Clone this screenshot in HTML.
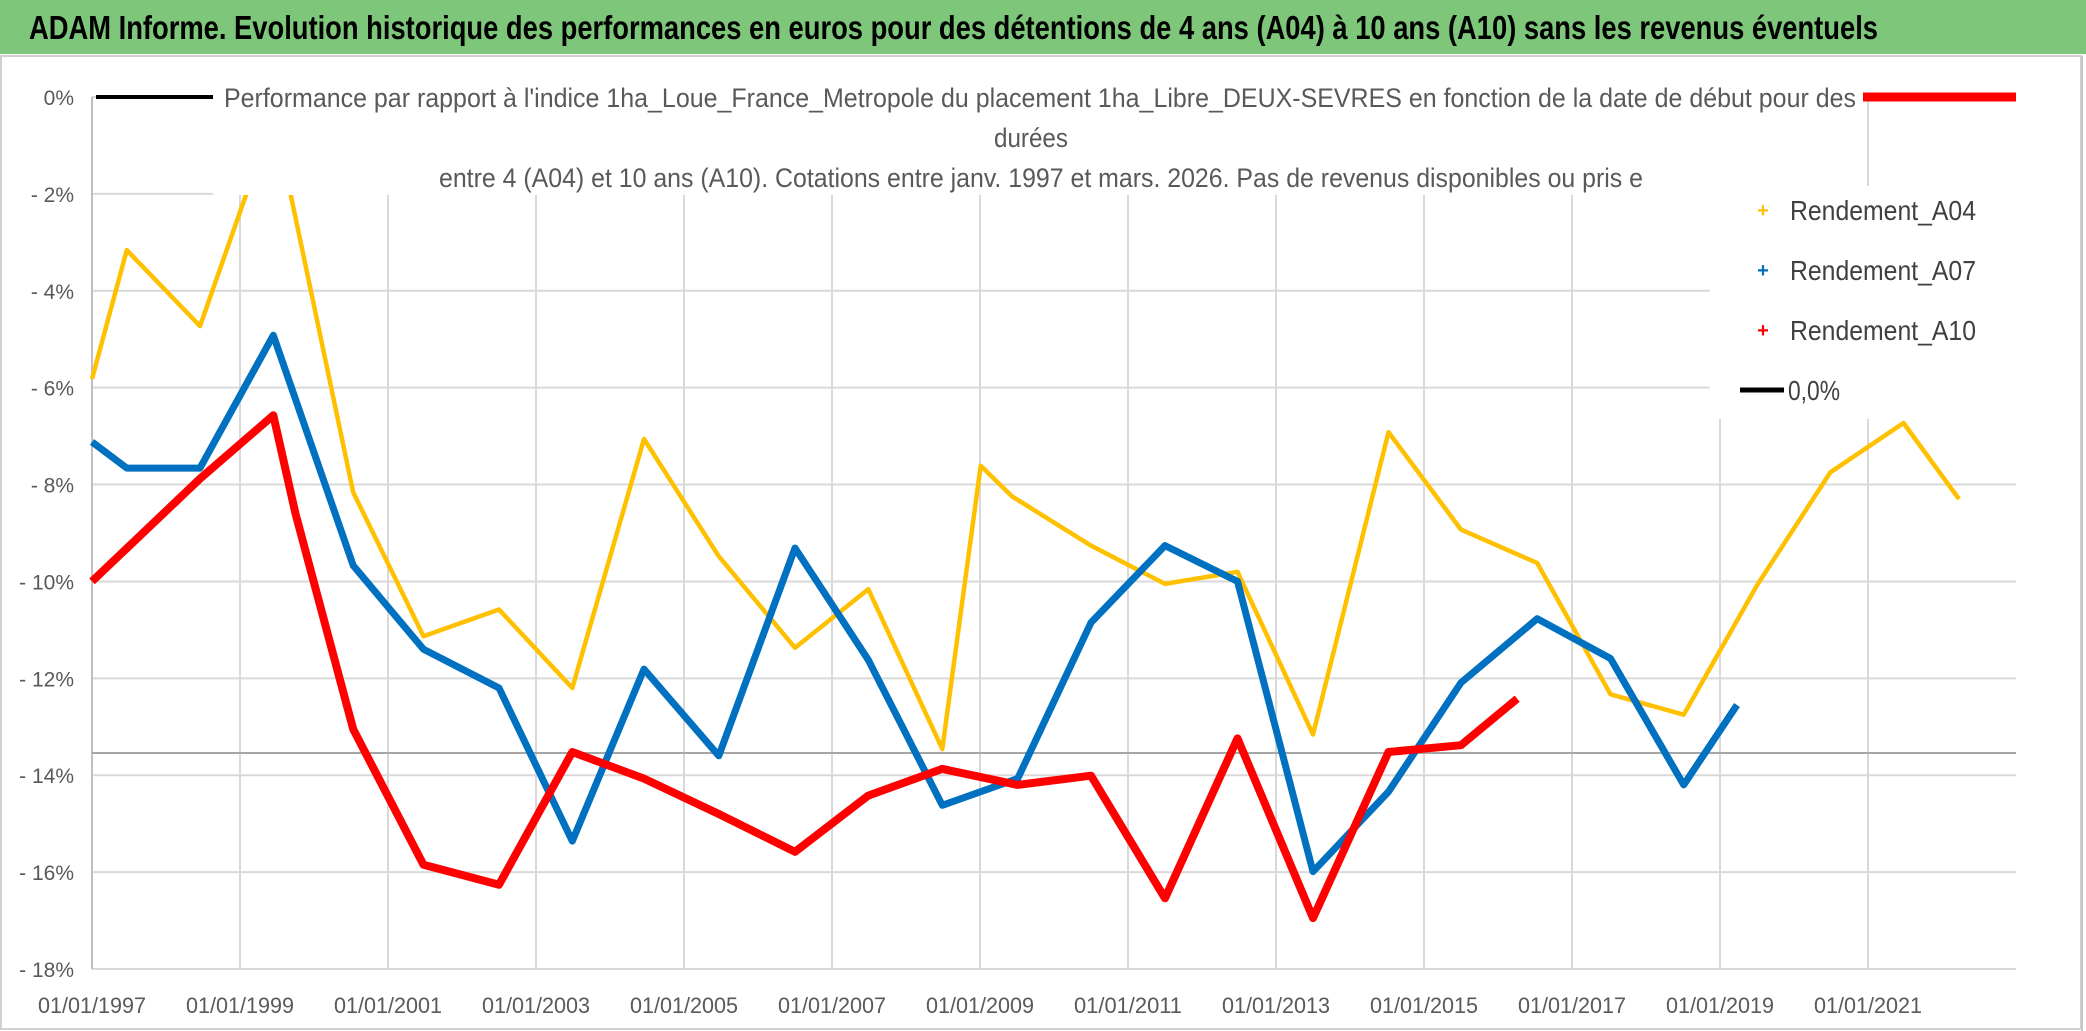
<!DOCTYPE html>
<html><head><meta charset="utf-8"><style>
html,body{margin:0;padding:0;background:#fff;}
svg{display:block;font-family:"Liberation Sans",sans-serif;}
</style></head><body>
<svg id="chart" width="2086" height="1031" viewBox="0 0 2086 1031">
<rect x="0" y="0" width="2086" height="1031" fill="#fff"/>
<rect x="0" y="0" width="2086" height="54" fill="#7dc67a"/>
<text x="29" y="39" font-size="33" font-weight="bold" fill="#000" textLength="1849" lengthAdjust="spacingAndGlyphs">ADAM Informe. Evolution historique des performances en euros pour des détentions de 4 ans (A04) à 10 ans (A10) sans les revenus éventuels</text>
<rect x="1" y="56" width="2080" height="973" fill="none" stroke="#d0d0d0" stroke-width="2"/>
<line x1="2082" y1="56" x2="2082" y2="1031" stroke="#c8c8c8" stroke-width="2"/>
<g id="grid"></g>
<g id="series"></g>
<g id="overlay"></g>
<g id="axes"></g>
</svg>
<script>
const yTicks = [0,-2,-4,-6,-8,-10,-12,-14,-16,-18];
const xTickYears = [1997,1999,2001,2003,2005,2007,2009,2011,2013,2015,2017,2019,2021];
const a04Years = [1997.0,1997.47,1998.46,1999.09,1999.45,1999.68,2000.53,2001.48,2002.5,2003.49,2004.46,2005.47,2006.5,2007.49,2008.49,2009.01,2009.43,2010.5,2011.5,2012.48,2013.5,2014.52,2015.5,2016.53,2017.52,2018.51,2019.5,2020.49,2021.48,2022.23];
const a04Values = [-5.82,-3.16,-4.73,-1.98,-1.1,-1.98,-8.16,-11.13,-10.58,-12.2,-7.06,-9.48,-11.37,-10.16,-13.46,-7.61,-8.24,-9.26,-10.05,-9.8,-13.16,-6.92,-8.93,-9.62,-12.33,-12.75,-10.08,-7.75,-6.73,-8.3];
const a07Years = [1997.0,1997.47,1998.46,1999.45,2000.53,2001.48,2002.5,2003.49,2004.46,2005.47,2006.5,2007.49,2008.49,2009.51,2010.5,2011.5,2012.48,2013.5,2014.52,2015.5,2016.53,2017.52,2018.51,2019.23];
const a07Values = [-7.12,-7.66,-7.66,-4.92,-9.67,-11.4,-12.2,-15.36,-11.81,-13.6,-9.31,-11.62,-14.62,-14.07,-10.85,-9.26,-10.0,-15.99,-14.34,-12.09,-10.77,-11.59,-14.2,-12.55];
const a10Years = [1997.0,1998.46,1999.45,1999.75,2000.53,2001.48,2002.5,2003.49,2004.46,2005.47,2006.5,2007.49,2008.49,2009.51,2010.5,2011.5,2012.48,2013.5,2014.52,2015.5,2016.26];
const a10Values = [-10.0,-7.88,-6.57,-8.6,-13.05,-15.85,-16.26,-13.52,-14.07,-14.8,-15.58,-14.42,-13.87,-14.2,-14.01,-16.54,-13.24,-16.95,-13.52,-13.38,-12.42];
const refLineValue = [-13.54];

const NS="http://www.w3.org/2000/svg";
const X0=92, X1=2016, Y0=97, Y1=969;
const xMin=1997, xMax=2023, yMaxV=0, yMinV=-18;
function xs(v){return X0+(v-xMin)/(xMax-xMin)*(X1-X0);}
function ys(v){return Y0+(yMaxV-v)/(yMaxV-yMinV)*(Y1-Y0);}
function mk(tag,parent,attrs){const e=document.createElementNS(NS,tag);for(const k in attrs)e.setAttribute(k,attrs[k]);parent.appendChild(e);return e;}
const grid=document.getElementById('grid'), series=document.getElementById('series'), overlay=document.getElementById('overlay'), axes=document.getElementById('axes');

yTicks.forEach(v=>{
  const l=mk('line',grid,{x1:X0,x2:X1,y1:ys(v),y2:ys(v),stroke:'#d9d9d9','stroke-width':2});
  
  
  const t=mk('text',axes,{x:74,y:ys(v)+8,'font-size':21,fill:'#595959','text-anchor':'end'});
  t.textContent = v===0 ? '0%' : '- '+Math.abs(v)+'%';
  
  
});
xTickYears.forEach(yr=>{
  const l=mk('line',grid,{x1:xs(yr),x2:xs(yr),y1:Y0,y2:Y1,stroke:'#d9d9d9','stroke-width':2});
  
  
  const t=mk('text',axes,{x:xs(yr),y:1013,'font-size':22,fill:'#595959','text-anchor':'middle',textLength:108,lengthAdjust:'spacingAndGlyphs'});
  t.textContent='01/01/'+yr;
  
  
});
const ax=mk('line',grid,{x1:X0,x2:X0,y1:Y0,y2:Y1,stroke:'#bfbfbf','stroke-width':2});


const rl=mk('line',grid,{x1:X0,x2:X1,y1:ys(refLineValue[0]),y2:ys(refLineValue[0]),stroke:'#a6a6a6','stroke-width':2});



function drawSeries(years,vals,color,w,name){
  const pts=years.map((y,i)=>xs(y).toFixed(1)+','+ys(vals[i]).toFixed(1)).join(' ');
  const p=mk('polyline',series,{points:pts,fill:'none',stroke:color,'stroke-width':w,'stroke-linejoin':'round'});
  
  
}
drawSeries(a04Years,a04Values,'#ffc000',4.5,'series-a04');
drawSeries(a07Years,a07Values,'#0070c0',7,'series-a07');
drawSeries(a10Years,a10Values,'#ff0000',8,'series-a10');

const tb=mk('rect',overlay,{x:213,y:70,width:1650,height:125,fill:'#fff'});


const zl=mk('line',overlay,{x1:96,x2:213,y1:97,y2:97,stroke:'#000','stroke-width':4});


const rz=mk('line',overlay,{x1:1863,x2:2016,y1:97,y2:97,stroke:'#ff0000','stroke-width':9});


const titles=[[224,107,1632,'start',"Performance par rapport à l'indice 1ha_Loue_France_Metropole  du placement 1ha_Libre_DEUX-SEVRES en fonction de la date de début pour des"],[1031,147,74,'middle','durées'],[439,187,1204,'start','entre 4 (A04) et 10 ans (A10). Cotations entre janv. 1997 et mars. 2026. Pas de revenus disponibles ou pris e']];
titles.forEach(tt=>{
  const t=mk('text',overlay,{x:tt[0],y:tt[1],'font-size':27,fill:'#595959','text-anchor':tt[3],textLength:tt[2],lengthAdjust:'spacingAndGlyphs'});
  t.textContent=tt[4];
  
  
});
const lb=mk('rect',overlay,{x:1710,y:186,width:306,height:233,fill:'#fff'});


const legItems=[['Rendement_A04','#ffc000',210],['Rendement_A07','#0070c0',270],['Rendement_A10','#ff0000',330]];
legItems.forEach(li=>{
  const m=mk('text',overlay,{x:1763,y:li[2]+7,'font-size':20,fill:li[1],'text-anchor':'middle','font-weight':'bold'});
  m.textContent='+';
  
  
  const t=mk('text',overlay,{x:1790,y:li[2]+10,'font-size':28,fill:'#404040',textLength:186,lengthAdjust:'spacingAndGlyphs'});
  t.textContent=li[0];
  
  
});
const lz=mk('line',overlay,{x1:1740,x2:1784,y1:390,y2:390,stroke:'#000','stroke-width':5});


const lzt=mk('text',overlay,{x:1788,y:400,'font-size':28,fill:'#404040',textLength:52,lengthAdjust:'spacingAndGlyphs'});
lzt.textContent='0,0%';


</script>
</body></html>
